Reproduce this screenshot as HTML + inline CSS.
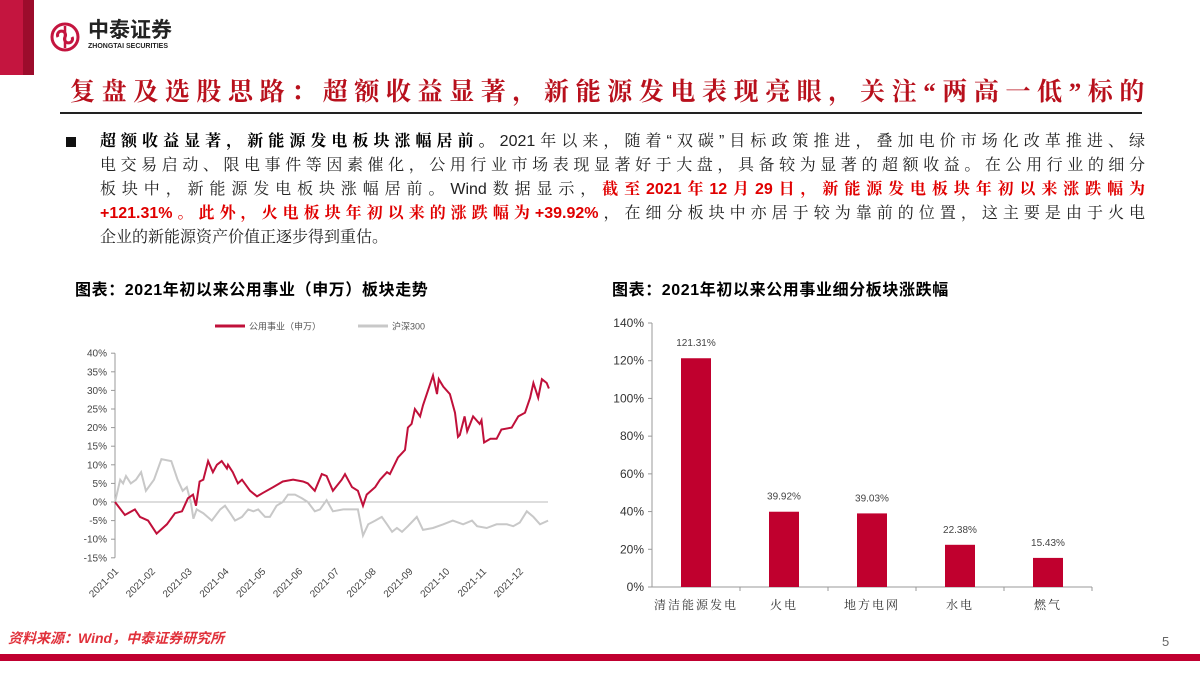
<!DOCTYPE html>
<html><head><meta charset="utf-8">
<style>
*{margin:0;padding:0;box-sizing:border-box}
body{width:1200px;height:675px;background:#fff;position:relative;overflow:hidden;font-family:"Liberation Sans","Noto Sans CJK SC",sans-serif}
.abs{position:absolute}
.para div{position:absolute;left:100px;width:1045px;font-size:16px;line-height:20px;color:#222;text-align:justify;text-align-last:justify;font-family:"Liberation Sans","Noto Serif CJK SC",serif;white-space:nowrap}
.b{font-weight:bold;color:#000}
.r{font-weight:bold;color:#e00000}
</style></head><body>
<div class="abs" style="left:0;top:0;width:23px;height:75px;background:#c4153f"></div>
<div class="abs" style="left:23px;top:0;width:11px;height:75px;background:#9c0c2c"></div>
<svg class="abs" style="left:50px;top:22px" width="30" height="30" viewBox="0 0 30 30"><circle cx="15" cy="15" r="13" fill="none" stroke="#c4153f" stroke-width="3"/><path d="M8 15a4 4 0 1 1 7 0a4 4 0 1 0 7 0" fill="none" stroke="#c4153f" stroke-width="3"/><line x1="15" y1="4" x2="15" y2="26" stroke="#c4153f" stroke-width="2.5"/></svg>
<div class="abs" style="left:88px;top:20px;font-size:21px;font-weight:bold;color:#222;line-height:22px">中泰证券</div>
<div class="abs" style="left:88px;top:43px;font-size:7px;font-weight:bold;color:#222">ZHONGTAI SECURITIES</div>
<div class="abs" style="left:70px;top:72px;font-size:25px;font-weight:bold;color:#b8101c;letter-spacing:6.6px;font-family:'Liberation Serif','Noto Serif CJK SC',serif;white-space:nowrap">复盘及选股思路：超额收益显著，新能源发电表现亮眼，关注“两高一低”标的</div>
<div class="abs" style="left:60px;top:112px;width:1082px;height:2px;background:#222"></div>
<div class="abs" style="left:66px;top:137px;width:10px;height:10px;background:#111"></div>
<div class="para">
<div style="top:132px"><span class="b">超额收益显著，新能源发电板块涨幅居前。</span>2021年以来，随着“双碳”目标政策推进，叠加电价市场化改革推进、绿</div>
<div style="top:156px">电交易启动、限电事件等因素催化，公用行业市场表现显著好于大盘，具备较为显著的超额收益。在公用行业的细分</div>
<div style="top:180px">板块中，新能源发电板块涨幅居前。Wind数据显示，<span class="r">截至2021年12月29日，新能源发电板块年初以来涨跌幅为</span></div>
<div style="top:204px"><span class="r">+121.31%。此外，火电板块年初以来的涨跌幅为+39.92%</span>，在细分板块中亦居于较为靠前的位置，这主要是由于火电</div>
<div style="top:228px;text-align-last:left">企业的新能源资产价值正逐步得到重估。</div>
</div>
<div class="abs" style="left:75px;top:276px;font-size:16px;font-weight:bold;color:#000;letter-spacing:0.6px">图表：2021年初以来公用事业（申万）板块走势</div>
<div class="abs" style="left:612px;top:276px;font-size:16px;font-weight:bold;color:#000;letter-spacing:0.6px">图表：2021年初以来公用事业细分板块涨跌幅</div>

<svg class="abs" id="lc" style="left:0;top:0" width="600" height="640"></svg>
<svg class="abs" id="bc" style="left:0;top:0" width="1200" height="640"></svg>

<div class="abs" style="left:8px;top:628px;font-size:14px;font-weight:bold;font-style:italic;color:#e0303a">资料来源：Wind，中泰证券研究所</div>
<div class="abs" style="left:1162px;top:634px;font-size:13px;color:#666">5</div>
<div class="abs" style="left:0;top:654px;width:1200px;height:7px;background:#c00030"></div>

<script>
const NS='http://www.w3.org/2000/svg';
const months=['2021-01','2021-02','2021-03','2021-04','2021-05','2021-06','2021-07','2021-08','2021-09','2021-10','2021-11','2021-12'];
const yTicksL=[40,35,30,25,20,15,10,5,0,-5,-10,-15];
// time in months since 2021-01-01
const utilTime=[0,0.27,0.54,0.68,0.9,1.13,1.41,1.63,1.82,1.98,2.12,2.2,2.3,2.4,2.53,2.66,2.77,2.9,3.04,3.07,3.2,3.34,3.45,3.67,3.86,4.03,4.3,4.56,4.84,5.11,5.24,5.43,5.62,5.75,5.92,6.16,6.25,6.44,6.6,6.74,6.84,7.07,7.2,7.39,7.47,7.69,7.88,7.96,8.06,8.15,8.29,8.37,8.64,8.75,8.8,8.92,9.1,9.24,9.32,9.37,9.5,9.57,9.73,9.91,9.96,10.03,10.2,10.37,10.5,10.78,10.96,11.14,11.28,11.37,11.5,11.6,11.73,11.79];
const utilities=[0,-3.5,-2,-4,-5,-8.5,-6,-3,-2.5,1,2,-1,5.5,6,11,8,10,11,9,10,8,5,6,3,1.5,2.5,4,5.5,6,5.5,5,3,7.5,7,3,6,7.5,4,3,-1,2,4,6,8,7.5,12,14,20,21,25,23,26,34,29,33,31,29,24,17.5,18,23,19,23,21,22,16,17,17,19.5,20,23,24,28,32,28,33,32,30.5];
const hsTime=[0,0.14,0.22,0.3,0.43,0.57,0.71,0.84,1.06,1.26,1.53,1.7,1.84,1.95,2.06,2.13,2.22,2.4,2.63,2.86,2.99,3.13,3.26,3.45,3.62,3.76,3.89,4.08,4.21,4.39,4.56,4.7,4.89,5.08,5.24,5.43,5.57,5.75,5.92,6.2,6.47,6.6,6.74,6.88,7.07,7.25,7.39,7.53,7.66,7.8,7.96,8.2,8.37,8.64,8.92,9.18,9.46,9.7,9.84,10.1,10.37,10.65,10.82,11,11.19,11.37,11.55,11.77];
const hs300=[0,6,5,7,5,6,8,3,6,11.5,11,6,3,4,0,-4.5,-2,-3,-5,-2,-1,-3,-5,-4,-2,-2.5,-2,-4,-4,-1,0,2,2,1,0,-2.5,-2,0.5,-2.5,-2,-2,-2,-9,-6,-5,-4,-6,-8,-7,-8,-6.5,-4,-7.5,-7,-6,-5,-6,-5,-6.5,-7,-6,-6,-6.5,-5.5,-2.5,-4,-6,-5];
const cats=['清洁能源发电','火电','地方电网','水电','燃气'];
const barVals=[121.31,39.92,39.03,22.38,15.43];
const yTicksR=[0,20,40,60,80,100,120,140];

function mk(svg,tag,attrs,name){const e=document.createElementNS(NS,tag);for(const k in attrs)e.setAttribute(k,attrs[k]);


svg.appendChild(e);return e;}

// line chart
const lc=document.getElementById('lc');
const x0=115,x1=548;
const yL=v=>502-v*(186/50);
const xM=m=>x0+m*36.8;
yTicksL.forEach(v=>{mk(lc,'line',{x1:x0-4,x2:x0,y1:yL(v),y2:yL(v),stroke:'#999'},'y-tick');
const t=mk(lc,'text',{x:x0-8,y:yL(v)+3.5,'text-anchor':'end','font-size':10,fill:'#444'},'y-tick-label');t.textContent=v+'%';});
mk(lc,'line',{x1:x0,x2:x0,y1:yL(40),y2:yL(-15),stroke:'#999'},'y-axis');
mk(lc,'line',{x1:x0,x2:x1,y1:yL(0),y2:yL(0),stroke:'#bbb'},'zero-line');
months.forEach((m,i)=>{const x=xM(i);const t=mk(lc,'text',{x:x+4,y:572,'text-anchor':'end','font-size':10,fill:'#444',transform:`rotate(-45 ${x+4} 572)`},'x-tick-label');t.textContent=m;});
function path(ts,arr){return arr.map((v,i)=>(i?'L':'M')+xM(ts[i]).toFixed(1)+' '+yL(v).toFixed(1)).join(' ');}
mk(lc,'path',{d:path(hsTime,hs300),fill:'none',stroke:'#c8c8c8','stroke-width':2},'hs300-line');
mk(lc,'path',{d:path(utilTime,utilities),fill:'none',stroke:'#c0103a','stroke-width':2},'utilities-line');
mk(lc,'line',{x1:215,x2:245,y1:326,y2:326,stroke:'#c0103a','stroke-width':3},'legend-utilities-swatch');
let t=mk(lc,'text',{x:249,y:329.5,'font-size':9,fill:'#555'},'legend-utilities-label');t.textContent='公用事业（申万）';
mk(lc,'line',{x1:358,x2:388,y1:326,y2:326,stroke:'#c8c8c8','stroke-width':3},'legend-hs300-swatch');
t=mk(lc,'text',{x:392,y:329.5,'font-size':9,fill:'#555'},'legend-hs300-label');t.textContent='沪深300';

// bar chart
const bc=document.getElementById('bc');
const bx0=652,bx1=1092,bw=(bx1-bx0)/cats.length;
const yR=v=>587-v*(264/140);
yTicksR.forEach(v=>{mk(bc,'line',{x1:bx0-4,x2:bx0,y1:yR(v),y2:yR(v),stroke:'#999'},'y-tick');
const tt=mk(bc,'text',{x:bx0-8,y:yR(v)+4,'text-anchor':'end','font-size':12,fill:'#333'},'y-tick-label');tt.textContent=v+'%';});
mk(bc,'line',{x1:bx0,x2:bx0,y1:yR(140),y2:yR(0),stroke:'#999'},'y-axis');
mk(bc,'line',{x1:bx0,x2:bx1,y1:yR(0),y2:yR(0),stroke:'#999'},'x-axis');
cats.forEach((c,i)=>{const cx=bx0+bw*(i+0.5);
mk(bc,'line',{x1:bx0+bw*(i+1),x2:bx0+bw*(i+1),y1:yR(0),y2:yR(0)+4,stroke:'#999'},'x-tick');
mk(bc,'rect',{x:cx-15,y:yR(barVals[i]),width:30,height:yR(0)-yR(barVals[i]),fill:'#c0002e'},'bar-'+i);
const v=mk(bc,'text',{x:cx,y:yR(barVals[i])-12,'text-anchor':'middle','font-size':10,fill:'#444'},'bar-value-label');v.textContent=barVals[i].toFixed(2)+'%';
const l=mk(bc,'text',{x:cx,y:609,'text-anchor':'middle','font-size':12,fill:'#333','letter-spacing':2,'font-family':'Noto Serif CJK SC, serif'},'x-category-label');l.textContent=c;});
</script>
</body></html>
